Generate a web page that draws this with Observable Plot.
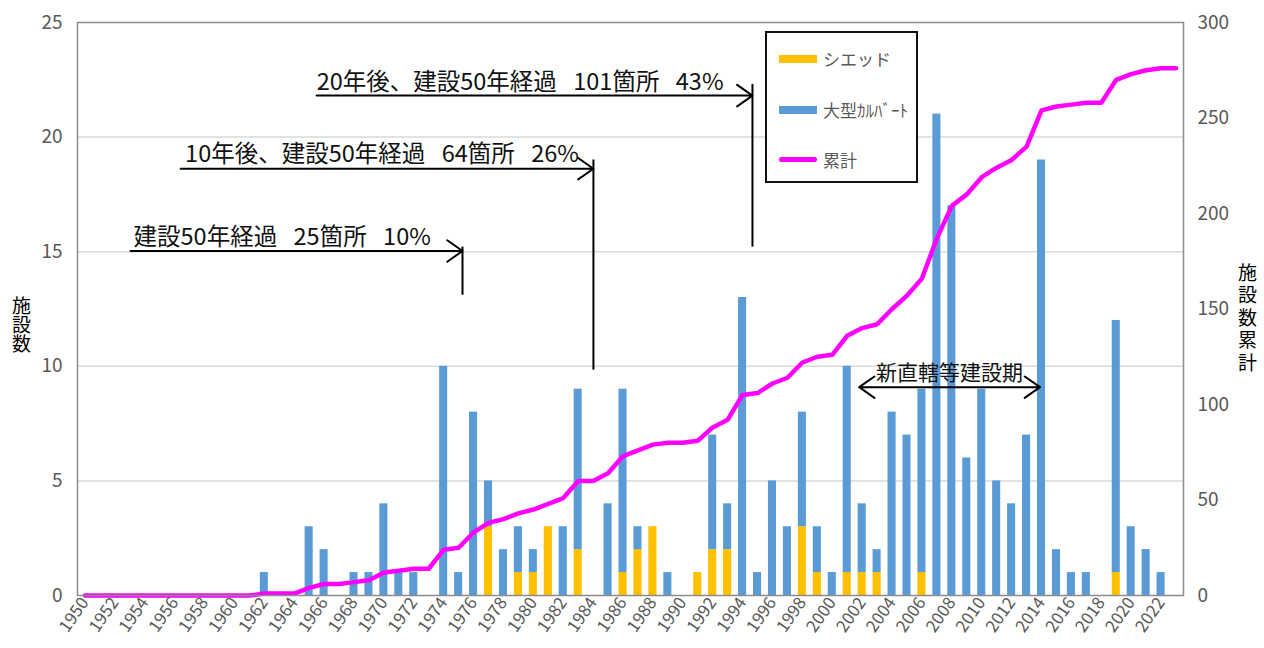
<!DOCTYPE html>
<html><head><meta charset="utf-8">
<script src="https://cdn.jsdelivr.net/npm/d3@7"></script>
<script src="https://cdn.jsdelivr.net/npm/@observablehq/plot@0.6"></script>
<style>
body{margin:0;background:#fff;}
#wrap{position:relative;width:1264px;height:648px;font-family:"Noto Sans CJK JP","Noto Sans",sans-serif;}
#legend{position:absolute;left:765px;top:31px;width:153px;height:152px;border:2px solid #111;background:#fff;box-sizing:border-box;}
.item{position:absolute;left:12px;display:flex;align-items:center;font-size:17px;color:#595959;white-space:nowrap;}
.sw{width:38px;margin-right:6px;}
.vtitle{position:absolute;writing-mode:vertical-rl;text-orientation:upright;font-size:19px;line-height:19px;color:#000;white-space:nowrap;}
</style></head><body>
<div id="wrap"><div id="legend"></div><div id="ltitle" class="vtitle"></div><div id="rtitle" class="vtitle"></div></div>
<script>
// Years 1950..2023
const years = d3.range(1950, 2024);
const xTickYears = d3.range(1950, 2023, 2);
// シエッド (shed) per year
const shed = [
  0,0,0,0,0,0,0,0,0,0, // 1950-1959
  0,0,0,0,0,0,0,0,0,0, // 1960-1969
  0,0,0,0,0,0,0,3,0,1, // 1970-1979
  1,3,0,2,0,0,1,2,3,0, // 1980-1989
  0,1,2,2,0,0,0,0,3,1, // 1990-1999
  0,1,1,1,0,0,1,0,0,0, // 2000-2009
  0,0,0,0,0,0,0,0,0,1, // 2010-2019
  0,0,0,0              // 2020-2023
];
// 大型カルバート (large culvert) per year
const culvert = [
  0,0,0,0,0,0,0,0,0,0, // 1950-1959
  0,0,1,0,0,3,2,0,1,1, // 1960-1969
  4,1,1,0,10,1,8,2,2,2, // 1970-1979
  1,0,3,7,0,4,8,1,0,1, // 1980-1989
  0,0,5,2,13,1,5,3,5,2, // 1990-1999
  1,9,3,1,8,7,8,21,17,6, // 2000-2009
  9,5,4,7,19,2,1,1,0,11, // 2010-2019
  3,2,1,0              // 2020-2023
];
// 累計 (cumulative)
const cumulative = [
  0,0,0,0,0,0,0,0,0,0, // 1950-1959
  0,0,1,1,1,4,6,6,7,8, // 1960-1969
  12,13,14,14,24,25,33,38,40,43, // 1970-1979
  45,48,51,60,60,64,73,76,79,80, // 1980-1989
  80,81,88,92,105,106,111,114,122,125, // 1990-1999
  126,136,140,142,150,157,166,187,204,210, // 2000-2009
  219,224,228,235,254,256,257,258,258,270, // 2010-2019
  273,275,276,276 // 2020-2023
];
const leftTicks = [0, 5, 10, 15, 20, 25];
const rightTicks = [0, 50, 100, 150, 200, 250, 300];
const seriesNames = ["シエッド", "大型ｶﾙﾊﾞｰﾄ", "累計"];
const seriesColors = ["#FFC000", "#5B9BD5", "#FF00FF"];
const leftTitle = "施設数";
const rightTitle = "施設数累計";

// annotations (year, value in left-axis units)
const gap = "\u2002\u2009";
const noteTexts = [
  "建設50年経過" + gap + "25箇所" + gap + "10%",
  "10年後、建設50年経過" + gap + "64箇所" + gap + "26%",
  "20年後、建設50年経過" + gap + "101箇所" + gap + "43%"
];
const noteX = [1953.25, 1956.7, 1965.5];
const noteY = [15.3, 18.9, 22.05];
const arrowFrom = [1953.05, 1956.4, 1965.5];
const arrowTo = [1975.26, 1984.02, 1994.66];
const arrowY = [15.03, 18.62, 21.81];
const ruleLow = [13.1, 9.83, 15.2];
const ruleHigh = [15.2, 19.0, 22.3];
const periodLabel = "新直轄等建設期";
const periodStart = 2001.8, periodEnd = 2013.9, periodY = 9.09, periodLabelY = 9.4;

const ratio = 300 / 25;
const data = years.map((y, i) => ({year: y, shed: shed[i], culvert: culvert[i], total: shed[i] + culvert[i], cum: cumulative[i]}));
const notes = noteTexts.map((t, i) => ({t, x: noteX[i], y: noteY[i], x1: arrowFrom[i], x2: arrowTo[i], ay: arrowY[i], lo: ruleLow[i], hi: ruleHigh[i]}));
const mid = (periodStart + periodEnd) / 2;
const period = [{x1: mid, x2: periodStart}, {x1: mid, x2: periodEnd}];
const halfW = 0.27;

const chart = Plot.plot({
  width: 1264, height: 648,
  marginLeft: 77, marginRight: 81, marginTop: 22, marginBottom: 53,
  style: {fontFamily: '"Noto Sans CJK JP","Noto Sans",sans-serif', background: "transparent"},
  x: {type: "linear", domain: [1949.5, 2023.5]},
  y: {domain: [0, 25]},
  marks: [
    Plot.gridY([5, 10, 15, 20], {stroke: "#d9d9d9", strokeOpacity: 1, strokeWidth: 1.5}),
    Plot.rectY(data, {x1: d => d.year - halfW, x2: d => d.year + halfW, y1: 0, y2: "shed", fill: seriesColors[0]}),
    Plot.rectY(data, {x1: d => d.year - halfW, x2: d => d.year + halfW, y1: "shed", y2: "total", fill: seriesColors[1]}),
    Plot.line(data, {x: "year", y: d => d.cum / ratio, stroke: seriesColors[2], strokeWidth: 4.5, strokeLinejoin: "round"}),
    Plot.frame({stroke: "#8c8c8c", strokeWidth: 1.5}),
    Plot.axisY(leftTicks, {anchor: "left", tickSize: 0, tickPadding: 15, fontSize: 19, fill: "#595959", label: null}),
    Plot.axisY(rightTicks.map(v => v / ratio), {anchor: "right", tickSize: 0, tickPadding: 14, fontSize: 19, fill: "#595959", tickFormat: d => String(Math.round(d * ratio)), label: null}),
    Plot.axisX(xTickYears, {tickSize: 0, tickPadding: 4, tickRotate: -55, fontSize: 17, fill: "#595959", tickFormat: d => String(d), label: null}),
    Plot.arrow(notes, {x1: "x1", x2: "x2", y1: "ay", y2: "ay", stroke: "#000", strokeWidth: 2, headLength: 14, headAngle: 70, bend: false}),
    Plot.ruleX(notes, {x: "x2", y1: "lo", y2: "hi", stroke: "#000", strokeWidth: 2}),
    Plot.text(notes, {x: "x", y: "y", text: "t", textAnchor: "start", lineAnchor: "bottom", fontSize: 23.5, fill: "#111"}),
    Plot.arrow(period, {x1: "x1", x2: "x2", y1: periodY, y2: periodY, stroke: "#000", strokeWidth: 2, headLength: 14, headAngle: 70, bend: false}),
    Plot.text([periodLabel], {x: mid, y: periodLabelY, textAnchor: "middle", lineAnchor: "bottom", fontSize: 21, fill: "#111"})
  ]
});
document.getElementById("wrap").prepend(chart);

// vertical axis titles
const lt = document.getElementById("ltitle");
lt.textContent = leftTitle;
lt.style.left = "12px"; lt.style.top = "296px";
const rt = document.getElementById("rtitle");
rt.textContent = rightTitle;
rt.style.left = "1238px"; rt.style.top = "263px"; rt.style.letterSpacing = "3.5px";

// legend
const legend = document.getElementById("legend");
const legendTops = [13, 64, 114];
seriesNames.forEach((name, i) => {
  const it = document.createElement("div");
  it.className = "item";
  it.style.top = legendTops[i] + "px";
  const sw = document.createElement("div");
  sw.className = "sw";
  sw.style.background = seriesColors[i];
  if (i < 2) { sw.style.height = "8px"; }
  else { sw.style.height = "5px"; sw.style.borderRadius = "3px"; }
  const lab = document.createElement("span");
  lab.textContent = name;
  it.appendChild(sw); it.appendChild(lab);
  legend.appendChild(it);
});
</script>
</body></html>
